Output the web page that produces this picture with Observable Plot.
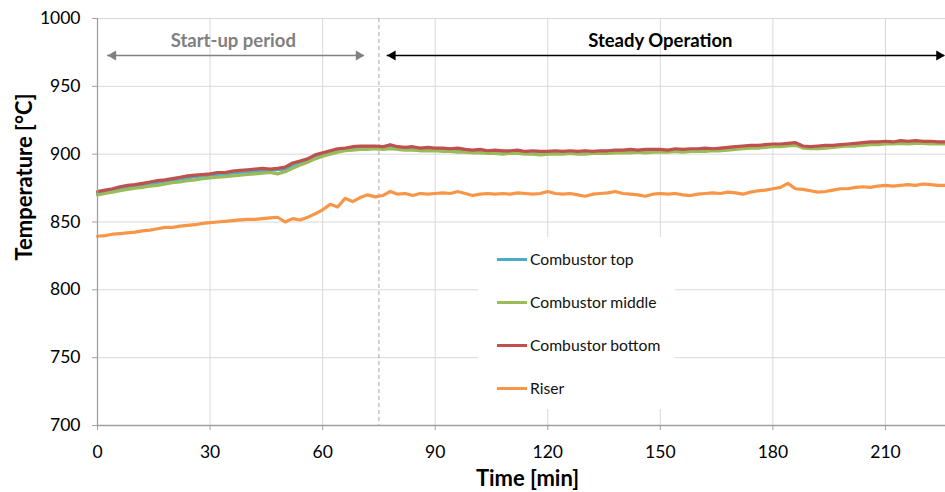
<!DOCTYPE html>
<html>
<head>
<meta charset="utf-8">
<script src="https://cdn.jsdelivr.net/npm/d3@7"></script>
<script src="https://cdn.jsdelivr.net/npm/@observablehq/plot@0.6"></script>
<style>
  body { margin: 0; background: #fff; }
  #wrap { position: relative; width: 945px; height: 492px; font-family: Lato, sans-serif; }
  #legend { position: absolute; left: 478px; top: 237px; width: 197px; height: 172px; background: #fff; }
  .item { position: absolute; left: 19px; height: 20px; display: flex; align-items: center; font-size: 15.7px; color: #111; }
  .sw { width: 30px; height: 3px; margin-right: 3px; }
</style>
</head>
<body>
<div id="wrap"></div>
<script>
// ---- data ----
const times = [0,2,4,6,8,10,12,14,16,18,20,22,24,26,28,30,32,34,36,38,40,42,44,46,48,50,52,54,56,58,60,62,64,66,68,70,72,74,76,78,80,82,84,86,88,90,92,94,96,98,100,102,104,106,108,110,112,114,116,118,120,122,124,126,128,130,132,134,136,138,140,142,144,146,148,150,152,154,156,158,160,162,164,166,168,170,172,174,176,178,180,182,184,186,188,190,192,194,196,198,200,202,204,206,208,210,212,214,216,218,220,222,224,226];

const combustorTop = [871.5,872.5,873.5,875,875.5,876.5,877.5,878,879,880,881,881.5,882.5,883.5,884,884.5,885,885.5,886,886.5,887,887.5,888,888,888.5,889,892,894,896,898.5,900,901.5,903,904,904.5,905,905,905.5,905,906,905,904.5,904.5,904,904,904,903.5,903.5,903.5,903,902.5,902.5,902,902,902,901.5,902,901.5,901.5,901.5,901.5,901.5,901.5,901.5,901.5,902,901.5,902,902,902,902.5,902.5,902.5,902.5,903,903,902.5,903,903,903,903.5,903.5,903.5,904,904,904.5,905,905.5,906,906,906.5,907,907,908,905.5,905,905,905.5,906,906.5,907,907,907.5,908,908,908.5,908.5,909,908.5,909,909,908.5,908.5,908.5];

const combustorMiddle = [870,871,872,873,874,875,875.5,876.5,877,878,879,879.5,880.5,881,882,882.5,883,883.5,884,884.5,885,885.5,886,886.5,885.5,887,889.5,892,894,896.5,898.5,900,901.5,902.5,903,903.5,903.5,904,903.5,904,903.5,903,903,902.5,902.5,902.5,902,902,901.5,901.5,901,901,900.5,900.5,900,900.5,900.5,900,900,899.5,900,900,900,900.5,900,900,900.5,900.5,900.5,901,901,901,901.5,901,901.5,901.5,901.5,902,901.5,902,902,902,902.5,902.5,903,903.5,904,904.5,904.5,905,905.5,905.5,906,906.5,904.5,904,904,904.5,905,905.5,906,906,906.5,907,907,907.5,907.5,908,907.5,908,908,907.5,907.5,907.5];

const combustorBottom = [872.5,873.5,874.5,876,877,877.5,878.5,879.5,880.5,881,882,883,884,884.5,885,885.5,886.5,886.5,887.5,888,888.5,889,889.5,889,889.5,890.5,893.5,895,896.5,899.5,901,902.5,904,904.5,905.5,906,906,906,905.5,907,905.5,905,905.5,904.5,905,904.5,904.5,904,904.5,903.5,903,903.5,902.5,903,902.5,902.5,903,902,902.5,902,902,902.5,902,902.5,902,902.5,902,902.5,902.5,903,903,903.5,903,903.5,903.5,903.5,903,904,903.5,904,904,904.5,904,904.5,905,905.5,906,906.5,906.5,907,907.5,907.5,908,908.5,906,905.5,906,906.5,906.5,907,907.5,908,908.5,909,909,909.5,909,910,909.5,910,909.5,909.5,909,909];

const riser = [839.5,840,841,841.5,842,842.5,843.5,844,845,846,846,847,847.5,848,849,849.5,850,850.5,851,851.5,852,852,852.5,853,853.5,850,852.5,851.5,853.5,856,859,863,861,867.5,865,868,870,868.5,869.5,872.5,870.5,871,869.5,871,870.5,871,871.5,871,872.5,871,869.5,870.5,871,870.5,871,870.5,871.5,871,870.5,871,872.5,871,870.5,871,870,869,870.5,871,871.5,872.5,871,870.5,870,869,870.5,871,870.5,871,870,869.5,870.5,871,871.5,871,872,871.5,870.5,872,873,873.5,874.5,875.5,878.5,874.5,874,873,872,872.5,873.5,874.5,874.5,875.5,876,875.5,876.5,877,876.5,877,877.5,877,878,877.5,877,877];

const seriesNames = ["Combustor top", "Combustor middle", "Combustor bottom", "Riser"];
const seriesValues = [combustorTop, combustorMiddle, combustorBottom, riser];
const seriesColors = ["#4bacc6", "#9bbb59", "#c0504d", "#f79646"];

const xTicks = [0, 30, 60, 90, 120, 150, 180, 210];
const yTicks = [700, 750, 800, 850, 900, 950, 1000];

const phaseBoundary = 75;
const phaseLabels = ["Start-up period", "Steady Operation"];
const phaseLabelX = [36.2, 150];
const phaseArrowFrom = [2.7, 77.2];
const phaseArrowTo = [71.1, 225.8];
const phaseLabelY = 983;
const phaseArrowY = 972.7;
const phaseColors = ["#808080", "#000000"];

// ---- build tables ----
const table = seriesNames.flatMap((name, i) =>
  times.map((t, j) => ({ t, v: seriesValues[i][j], name })));

const phases = phaseLabels.map((label, i) => ({
  label, lx: phaseLabelX[i], x1: phaseArrowFrom[i], x2: phaseArrowTo[i], color: phaseColors[i]
}));

const plot = Plot.plot({
  width: 945,
  height: 492,
  marginLeft: 97,
  marginRight: 0,
  marginTop: 18,
  marginBottom: 67,
  style: { fontFamily: "Lato, sans-serif", fontSize: "17px", color: "#000", background: "#fff" },
  x: { domain: [0, 226] },
  y: { domain: [700, 1000] },
  color: { domain: seriesNames, range: seriesColors },
  marks: [
    Plot.gridX(xTicks, { stroke: "#d9d9d9", strokeOpacity: 1, strokeWidth: 1 }),
    Plot.gridY(yTicks, { stroke: "#d9d9d9", strokeOpacity: 1, strokeWidth: 1 }),
    Plot.ruleX([phaseBoundary], { stroke: "#a6a6a6", strokeDasharray: "4,3", strokeWidth: 1 }),
    Plot.lineY(table, { x: "t", y: "v", z: "name", stroke: "name", strokeWidth: 3.2, strokeLinejoin: "round" }),
    Plot.ruleX([0], { stroke: "#a0a0a0", strokeWidth: 1.3 }),
    Plot.ruleY([700], { stroke: "#a0a0a0", strokeWidth: 1.3 }),
    Plot.axisY(yTicks, { tickSize: 5, tickPadding: 12, stroke: "#a0a0a0", fill: "#000", fontSize: 17.5, tickFormat: d => String(d), label: null }),
    Plot.axisX(xTicks, { tickSize: 5, tickPadding: 15, stroke: "#a0a0a0", fill: "#000", fontSize: 17.5, tickFormat: d => String(d), label: null }),
    Plot.text(["Time [min]"], { frameAnchor: "bottom", textAnchor: "middle", lineAnchor: "middle", dy: 53, dx: 6, fontSize: 22, fontWeight: "bold", fill: "#000" }),
    Plot.text(["Temperature [°C]"], { frameAnchor: "left", textAnchor: "middle", lineAnchor: "middle", dx: -73, dy: -45, rotate: -90, fontSize: 22, fontWeight: "bold", fill: "#000" }),
    // phase annotations
    Plot.text(phases, { x: "lx", y: () => phaseLabelY, text: "label", fill: "color", fontSize: 18.5, fontWeight: "bold" }),
    Plot.ruleY(phases, { x1: "x1", x2: "x2", y: () => phaseArrowY, stroke: "color", strokeWidth: 1.6 }),
    Plot.dot(phases, { x: "x1", y: () => phaseArrowY, symbol: "triangle", rotate: -90, r: 3.7, dx: 5.6, fill: "color", stroke: "none" }),
    Plot.dot(phases, { x: "x2", y: () => phaseArrowY, symbol: "triangle", rotate: 90, r: 3.7, dx: -5.6, fill: "color", stroke: "none" })
  ]
});

const wrap = document.getElementById("wrap");
wrap.appendChild(plot);

// legend overlay (inside the plot area, white box)
const legend = document.createElement("div");
legend.id = "legend";
const legendTops = [12, 55, 98, 141];
seriesNames.forEach((name, i) => {
  const item = document.createElement("div");
  item.className = "item";
  item.style.top = legendTops[i] + "px";
  const sw = document.createElement("span");
  sw.className = "sw";
  sw.style.background = seriesColors[i];
  const label = document.createElement("span");
  label.textContent = name;
  item.appendChild(sw);
  item.appendChild(label);
  legend.appendChild(item);
});
wrap.appendChild(legend);
</script>
</body>
</html>
